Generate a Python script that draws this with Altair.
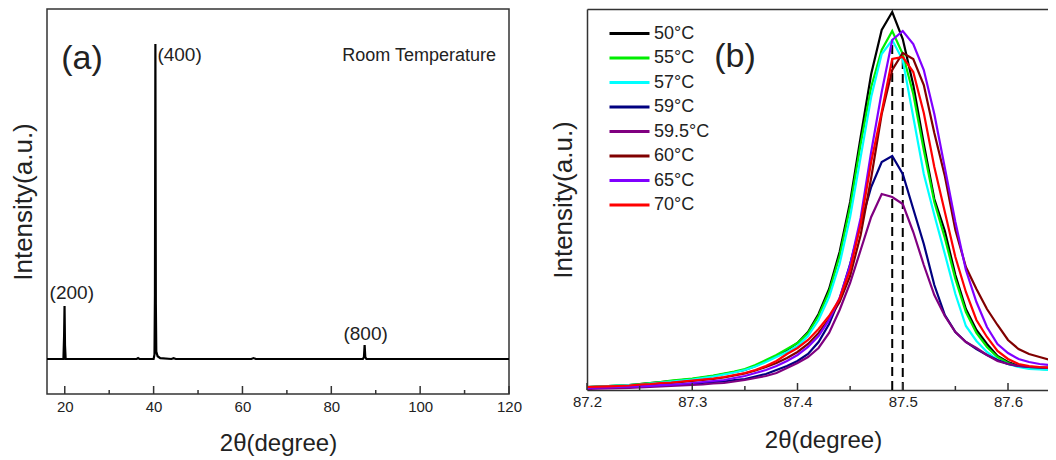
import altair as alt
import pandas as pd

FONT = "Liberation Sans"
INK = "#222222"
FRAME = "#333333"

# ---------------- Panel (a): full XRD pattern ----------------
theta_a = [16, 19.7, 19.85, 19.95, 20.05, 20.2, 36.2, 36.5, 36.8, 40.0, 40.2, 40.3, 40.4,
           40.5, 40.6, 40.9, 41.5, 44.0, 44.5, 45.0, 62.0, 62.5, 63.0, 87.1, 87.35, 87.5,
           87.65, 87.9, 120]
int_a = [0, 0, 250, 575, 150, 0, 0, 10, 0, 0, 50, 700, 3420,
         600, 80, 30, 10, 0, 8, 0, 0, 10, 0, 0, 20, 152,
         20, 0, 0]
major_a = [20, 40, 60, 80, 100, 120]
minor_a = [30, 50, 70, 90, 110]
peak_names = ["(200)", "(400)", "(800)"]
peak_theta = [20.0, 40.4, 87.5]
peak_int = [575, 3420, 152]

# ---------------- Panel (b): (800) peak vs temperature ----------------
theta_b = [87.20, 87.21, 87.22, 87.23, 87.24, 87.25, 87.26, 87.27, 87.28, 87.29,
           87.30, 87.31, 87.32, 87.33, 87.34, 87.35, 87.36, 87.37, 87.38, 87.39,
           87.40, 87.41, 87.42, 87.43, 87.44, 87.45, 87.46, 87.47, 87.48, 87.49,
           87.50, 87.51, 87.52, 87.53, 87.54, 87.55, 87.56, 87.57, 87.58, 87.59,
           87.60, 87.61, 87.62, 87.63, 87.64]
series_names = ["50°C", "55°C", "57°C", "59°C", "59.5°C", "60°C", "65°C", "70°C"]
series_colors = ["#000000", "#00ee00", "#00ffff", "#000080", "#800080", "#800000", "#8000ff", "#ff0000"]
i_50 = [3, 3.5, 4, 4.5, 5, 6, 7, 8, 9, 10, 11, 12.5, 14, 16, 18, 20, 24, 29, 34, 40, 47,
        58, 76, 101, 138, 188, 253, 316, 360, 378,
        351, 305, 246, 191, 159, 115, 81, 60, 46, 34, 28, 24, 22.5, 22, 21.5]
i_55 = [3, 3.5, 4, 4.5, 5, 6, 7, 8, 9.5, 10.5, 11.5, 13, 14.5, 16.5, 18.5, 21, 25, 30, 35, 41, 47,
        57, 74, 98, 134, 183, 246, 303, 340, 359,
        336, 296, 240, 188, 152, 111, 78, 57, 43, 33, 27, 23.5, 22, 21, 20.5]
i_57 = [3, 3.5, 4, 4.5, 5, 5.5, 6.5, 7.5, 8.5, 9.5, 10.5, 12, 13.5, 15.5, 17.5, 20, 23.5, 28, 33, 38, 44,
        54, 70, 93, 126, 173, 233, 293, 336, 350,
        330, 273, 216, 175, 136, 96, 64, 49, 38, 30, 26, 23, 21, 20.5, 20]
i_59 = [2, 2.3, 2.6, 2.9, 3.2, 3.5, 4, 4.5, 5, 5.5, 6, 7, 8, 8.5, 10, 11, 13.5, 16, 20, 24, 29,
        36, 48, 66, 91, 126, 166, 203, 228, 234,
        216, 181, 146, 105, 75, 58, 48, 41, 35, 30, 26, 24, 23, 22.5, 22]
i_595 = [1, 1.3, 1.6, 1.9, 2.2, 2.5, 3, 3.5, 4, 4.5, 5, 5.5, 6.5, 7, 8.5, 10, 12, 14, 17, 22, 27,
         33, 42, 57, 80, 107, 140, 173, 196, 193,
         186, 158, 125, 95, 74, 58, 48, 42, 35, 29, 26, 24, 23, 22.5, 22]
i_60 = [2.5, 2.8, 3.1, 3.5, 4, 5, 5.5, 6.5, 7, 8, 9, 10, 11, 12.5, 14.5, 16.5, 19.5, 23, 27, 32, 38,
        46, 57, 71, 88, 114, 155, 212, 276, 320,
        337, 331, 305, 257, 214, 160, 123, 101, 81, 65, 50, 41, 36, 33, 30]
i_65 = [2, 2.3, 2.6, 3, 3.3, 3.7, 4.2, 4.8, 5.3, 6, 7, 8, 9, 10, 12, 14, 17, 20, 24, 29, 35,
        43, 54, 70, 92, 125, 172, 238, 298, 350,
        359, 346, 320, 276, 222, 168, 120, 88, 63, 46, 37, 31, 28, 26, 25]
i_70 = [3, 3.3, 3.6, 4, 4.5, 5.5, 6, 7, 7.5, 8.5, 9.5, 10.5, 11.5, 13, 15, 17, 20, 24, 29, 36, 42,
        50, 61, 74, 91, 120, 166, 228, 278, 331,
        333, 318, 277, 223, 178, 133, 98, 70, 53, 39, 31, 26, 24, 23, 22.5]
series_values = [i_50, i_55, i_57, i_59, i_595, i_60, i_65, i_70]
major_b = [87.2, 87.3, 87.4, 87.5, 87.6]
minor_b = [87.25, 87.35, 87.45, 87.55]
dash_theta = [87.49, 87.50]
dash_top = [345, 330]

# ---------------- tables ----------------
df_a = pd.DataFrame({"theta": theta_a, "intensity": int_a})
rows = []
for name, vals in zip(series_names, series_values):
    for t, v in zip(theta_b, vals):
        rows.append({"theta": t, "intensity": v, "series": name})
df_b = pd.DataFrame(rows)

W_A, H_A = 462, 385
W_B, H_B = 461, 381

# ---------------- panel (a) ----------------
xa_scale = alt.Scale(domain=[16, 120], nice=False, zero=False)
ya_scale = alt.Scale(domain=[-380, 3800], nice=False, zero=False)

line_a = alt.Chart(df_a).mark_line(color="black", strokeWidth=2.2, clip=True).encode(
    x=alt.X("theta:Q", scale=xa_scale,
            axis=alt.Axis(values=major_a, format="d", title="2θ(degree)", ticks=False,
                          domain=False, grid=False, labelPadding=5, titlePadding=17,
                          labelFlush=False, labelFontSize=15, titleFontSize=24)),
    y=alt.Y("intensity:Q", scale=ya_scale,
            axis=alt.Axis(title="Intensity(a.u.)", labels=False, ticks=False, domain=False,
                          grid=False, titlePadding=11, titleFontSize=26)),
)

ticks_a_major = alt.Chart(pd.DataFrame({"theta": major_a})).mark_rule(color=FRAME, strokeWidth=1.5).encode(
    x=alt.X("theta:Q", scale=xa_scale, axis=None), y=alt.value(H_A), y2=alt.value(H_A - 8))
ticks_a_minor = alt.Chart(pd.DataFrame({"theta": minor_a})).mark_rule(color=FRAME, strokeWidth=1.5).encode(
    x=alt.X("theta:Q", scale=xa_scale, axis=None), y=alt.value(H_A), y2=alt.value(H_A - 4))

peak_style = {"(200)": dict(align="center", dx=7, dy=-13),
              "(400)": dict(align="left", dx=2, dy=11),
              "(800)": dict(align="center", dx=1, dy=-11)}
peak_layers = []
for n, t, v in zip(peak_names, peak_theta, peak_int):
    peak_layers.append(
        alt.Chart(pd.DataFrame({"theta": [t], "intensity": [v], "label": [n]})).mark_text(
            fontSize=19, baseline="middle", color=INK, **peak_style[n]).encode(
            x=alt.X("theta:Q", scale=xa_scale, axis=None),
            y=alt.Y("intensity:Q", scale=ya_scale, axis=None),
            text="label:N"))

label_a = alt.Chart(pd.DataFrame({"t": ["(a)"]})).mark_text(
    fontSize=34, align="center", baseline="middle", color=INK).encode(
    text="t:N", x=alt.value(35), y=alt.value(50))
label_rt = alt.Chart(pd.DataFrame({"t": ["Room Temperature"]})).mark_text(
    fontSize=18, align="right", baseline="middle", color=INK).encode(
    text="t:N", x=alt.value(449), y=alt.value(47))

panel_a = alt.layer(line_a, ticks_a_major, ticks_a_minor, *peak_layers, label_a, label_rt).resolve_axis(
    x="independent", y="independent").properties(
    width=W_A, height=H_A, view=alt.ViewBackground(stroke=FRAME, strokeWidth=1.5))

# ---------------- panel (b) ----------------
xb_scale = alt.Scale(domain=[87.2, 87.638], nice=False, zero=False)
yb_scale = alt.Scale(domain=[0, 381], nice=False, zero=False)

dash_df = pd.DataFrame({"theta": dash_theta, "intensity": dash_top, "base": [0, 0]})
dash_b = alt.Chart(dash_df).mark_rule(color="black", strokeWidth=2, strokeDash=[9, 5]).encode(
    x=alt.X("theta:Q", scale=xb_scale,
            axis=alt.Axis(orient="top", labels=False, ticks=False, title=None, grid=False,
                          domain=True)),
    y=alt.Y("intensity:Q", scale=yb_scale, axis=None),
    y2="base:Q")

lines_b = alt.Chart(df_b).mark_line(strokeWidth=2.2, clip=True).encode(
    x=alt.X("theta:Q", scale=xb_scale,
            axis=alt.Axis(orient="bottom", values=major_b, format=".1f", title="2θ(degree)",
                          ticks=False, domain=True, grid=False, labelPadding=4, titlePadding=19,
                          labelFlush=False, labelFontSize=15, titleFontSize=24,
                          titleX=236, titleAlign="center")),
    y=alt.Y("intensity:Q", scale=yb_scale,
            axis=alt.Axis(orient="left", title="Intensity(a.u.)", labels=False, ticks=False,
                          domain=True, grid=False, titlePadding=11, titleFontSize=26)),
    color=alt.Color("series:N", sort=series_names,
                    scale=alt.Scale(domain=series_names, range=series_colors),
                    legend=alt.Legend(orient="none", legendX=561, legendY=13, title=None,
                                      symbolType="M-1,0H3", symbolSize=400, symbolStrokeWidth=3,
                                      labelFontSize=18, labelOffset=23, rowPadding=3.5,
                                      padding=0, labelFont=FONT, labelColor=INK)),
)

ticks_b_major = alt.Chart(pd.DataFrame({"theta": major_b})).mark_rule(color=FRAME, strokeWidth=1.5).encode(
    x=alt.X("theta:Q", scale=xb_scale, axis=None), y=alt.value(H_B), y2=alt.value(H_B - 7))
ticks_b_minor = alt.Chart(pd.DataFrame({"theta": minor_b})).mark_rule(color=FRAME, strokeWidth=1.5).encode(
    x=alt.X("theta:Q", scale=xb_scale, axis=None), y=alt.value(H_B), y2=alt.value(H_B - 4))

label_b = alt.Chart(pd.DataFrame({"t": ["(b)"]})).mark_text(
    fontSize=34, align="center", baseline="middle", color=INK).encode(
    text="t:N", x=alt.value(148), y=alt.value(48))

panel_b = alt.layer(dash_b, lines_b, ticks_b_major, ticks_b_minor, label_b).resolve_axis(
    x="independent", y="independent").properties(width=W_B, height=H_B)

chart = alt.hconcat(panel_a, panel_b, spacing=27).properties(
    padding={"left": 1, "top": 0, "right": 0, "bottom": 0}
).configure_view(stroke=None).configure_axis(
    labelFont=FONT, titleFont=FONT, labelColor=INK, titleColor=INK, titleFontWeight="normal",
    domainColor=FRAME, domainWidth=1.5, grid=False
).configure_text(font=FONT)

chart.save("out.html", embed_options={"renderer": "svg", "actions": False})
